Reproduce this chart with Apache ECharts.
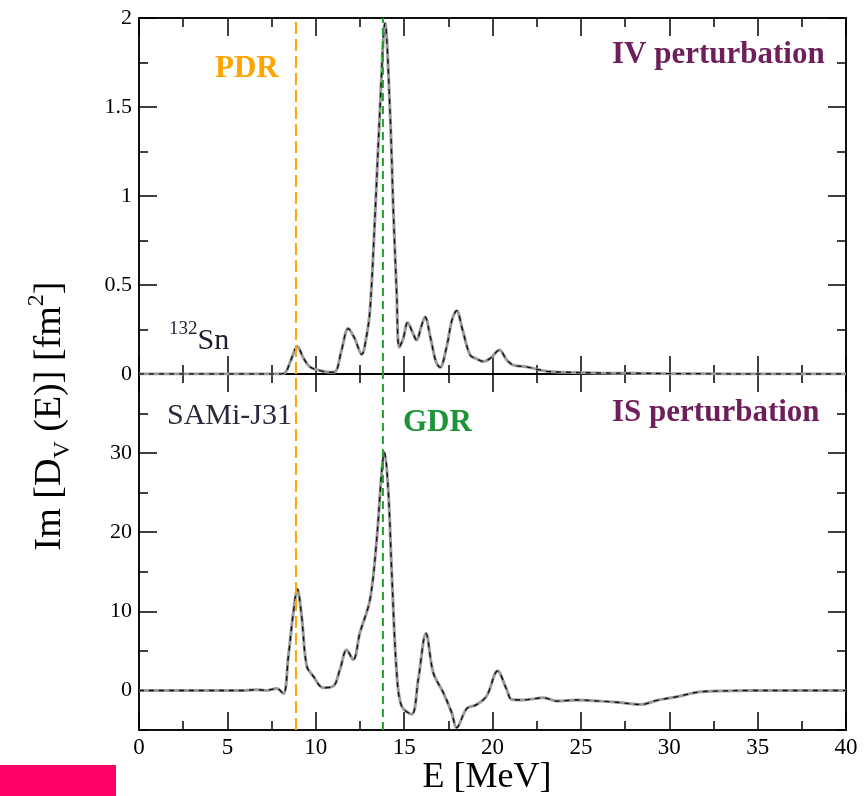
<!DOCTYPE html>
<html>
<head>
<meta charset="utf-8">
<script src="https://cdn.jsdelivr.net/npm/echarts@6/dist/echarts.min.js"></script>
<style>
html,body{margin:0;padding:0;background:#fff;}
#chart{width:864px;height:796px;}
</style>
</head>
<body>
<div id="chart"></div>
<script>
// ---- data ----
var ivEnergy = [0, 2, 4, 6, 7, 8, 8.3, 8.6, 8.96, 9.3, 9.67, 10.2, 10.8, 11.1, 11.45, 11.84, 12.2, 12.6, 12.85, 13.07, 13.35, 13.63, 13.92, 14.2, 14.39, 14.58, 14.72, 14.95, 15.2, 15.45, 15.71, 15.95, 16.18, 16.5, 16.8, 17.03, 17.4, 17.7, 17.97, 18.3, 18.73, 19.1, 19.48, 19.9, 20.39, 20.8, 21.18, 21.93, 23.07, 24, 26, 28, 30, 32, 35, 40];
var ivValue  = [0, 0, 0, 0, 0, 0, 0.01, 0.08, 0.155, 0.09, 0.04, 0.02, 0.01, 0.012, 0.13, 0.255, 0.2, 0.11, 0.2, 0.36, 0.88, 1.48, 1.97, 1.48, 0.92, 0.45, 0.15, 0.2, 0.29, 0.24, 0.19, 0.26, 0.32, 0.2, 0.07, 0.037, 0.15, 0.3, 0.356, 0.25, 0.107, 0.085, 0.07, 0.09, 0.135, 0.08, 0.05, 0.04, 0.015, 0.01, 0.006, 0.004, 0.002, 0.001, 0, 0];

var isEnergy = [0, 2, 4, 6, 6.66, 7.2, 7.79, 8.17, 8.45, 8.73, 8.96, 9.2, 9.49, 9.86, 10.43, 11.0, 11.37, 11.75, 12.12, 12.5, 13.07, 13.45, 13.73, 13.88, 14.1, 14.3, 14.58, 14.86, 15.43, 15.8, 16.24, 16.65, 17.22, 17.69, 17.97, 18.54, 19.1, 19.67, 20.29, 20.8, 21.09, 21.75, 22.9, 23.63, 24.77, 26.08, 27.03, 28.44, 29.29, 30.42, 31.74, 32.68, 34.57, 37, 40];
var isValue  = [0, 0, 0, 0, 0.1, 0, 0.25, -0.4, 4.3, 9.8, 12.8, 9.4, 3.1, 1.8, 0.34, 0.55, 2.66, 5.1, 3.9, 7.3, 11.5, 19.1, 27.6, 30.1, 25.4, 14.9, 2.24, -2.0, -3.0, 1.4, 7.2, 2.24, -0.3, -2.8, -4.7, -2.3, -1.8, -0.7, 2.45, 0.13, -1.14, -1.2, -0.93, -1.35, -1.2, -1.35, -1.5, -1.77, -1.26, -0.8, -0.17, -0.08, 0, 0, 0];

var pdrEnergy = 8.88;
var gdrEnergy = 13.8;

var xRange = [0, 40];
var ivRange = [0, 2];
var isRange = [-5, 40];
var isMajorTicks = [0, 10, 20, 30, 40];
var isTickLabels = [0, 10, 20, 30];

// ---- chart ----
function pairs(xs, ys){ return xs.map(function(x,i){ return [x, ys[i]]; }); }
var FONT = '"Liberation Serif", "Times New Roman", serif';
function ls(){ return {color:'#000', width:1.5}; }

// x axes: a major axis (long ticks) and a minor axis (short ticks) on each side
function xAx(grid, pos, major, labels){
  return {
    type:'value', gridIndex:grid, position:pos, min:xRange[0], max:xRange[1], interval: major ? 5 : 2.5,
    axisLine:{show:true, onZero:false, lineStyle:ls()},
    axisTick:{show:true, inside:true, length: major ? 18 : 9, lineStyle:ls()},
    minorTick:{show:false},
    splitLine:{show:false},
    axisLabel:{show:labels, color:'#000', fontFamily:FONT, fontSize:23, margin:6}
  };
}
function ivY(pos, major, labels){
  return {
    type:'value', gridIndex:0, position:pos, min:ivRange[0], max:ivRange[1], interval: major ? 0.5 : 0.25,
    axisLine:{show:true, onZero:false, lineStyle:ls()},
    axisTick:{show:true, inside:true, length: major ? 18 : 9, lineStyle:ls()},
    minorTick:{show:false},
    splitLine:{show:false},
    axisLabel:{show:labels, color:'#000', fontFamily:FONT, fontSize:22, margin:7}
  };
}
function isY(pos, major, labels){
  var tick = {show:true, inside:true, length: major ? 18 : 9, lineStyle:ls()};
  if (major) tick.customValues = isMajorTicks;
  return {
    type:'value', gridIndex:1, position:pos, min:isRange[0], max:isRange[1], interval:5,
    axisLine:{show:true, onZero:false, lineStyle:ls()},
    axisTick:tick,
    minorTick:{show:false},
    splitLine:{show:false},
    axisLabel:{show:labels, color:'#000', fontFamily:FONT, fontSize:22, margin:7,
      formatter:function(v){ return isTickLabels.indexOf(v) >= 0 ? String(v) : ''; }}
  };
}
function vline(xi, yi, e, range, color, dash){
  return {type:'line', xAxisIndex:xi, yAxisIndex:yi, data:[[e, range[0]], [e, range[1]]], symbol:'none', silent:true,
    lineStyle:{color:color, width:2, type:dash}, z:5};
}

var option = {
  animation:false,
  grid:[
    {left:139, top:18, width:707, height:356},
    {left:139, top:374, width:707, height:356}
  ],
  xAxis:[
    xAx(0,'bottom',true,false), xAx(0,'bottom',false,false), xAx(0,'top',true,false), xAx(0,'top',false,false),
    xAx(1,'bottom',true,true),  xAx(1,'bottom',false,false), xAx(1,'top',true,false), xAx(1,'top',false,false)
  ],
  yAxis:[
    ivY('left',true,true), ivY('left',false,false), ivY('right',true,false), ivY('right',false,false),
    isY('left',true,true), isY('left',false,false), isY('right',true,false), isY('right',false,false)
  ],
  series:[
    {type:'line', xAxisIndex:0, yAxisIndex:0, data:pairs(ivEnergy, ivValue), smooth:0.35, symbol:'none',
      lineStyle:{color:'#9a9a9a', width:3}},
    {type:'line', xAxisIndex:0, yAxisIndex:0, data:pairs(ivEnergy, ivValue), smooth:0.35, symbol:'none',
      lineStyle:{color:'#111', width:1.4, type:[5,5]}},
    {type:'line', xAxisIndex:4, yAxisIndex:4, data:pairs(isEnergy, isValue), smooth:0.35, symbol:'none',
      lineStyle:{color:'#9a9a9a', width:3}},
    {type:'line', xAxisIndex:4, yAxisIndex:4, data:pairs(isEnergy, isValue), smooth:0.35, symbol:'none',
      lineStyle:{color:'#111', width:1.4, type:[5,5]}},
    vline(0, 0, pdrEnergy, ivRange, '#FFA500', [12,5]),
    vline(0, 0, gdrEnergy, ivRange, '#22A02E', [8,5]),
    vline(4, 4, pdrEnergy, isRange, '#FFA500', [12,5]),
    vline(4, 4, gdrEnergy, isRange, '#22A02E', [8,5])
  ],
  graphic:[
    {type:'text', x:50, y:416, rotation:Math.PI/2,
      style:{text:'{m|Im [D}{sub|V}{m| (E)] [fm}{sup|2}{m|]}', align:'center', verticalAlign:'middle',
        rich:{
          m:{fontFamily:FONT, fontSize:38, lineHeight:50, fill:'#000', verticalAlign:'middle'},
          sub:{fontFamily:FONT, fontSize:24, lineHeight:24, fill:'#000', verticalAlign:'bottom'},
          sup:{fontFamily:FONT, fontSize:24, lineHeight:24, fill:'#000', verticalAlign:'top'}
        }}},
    {type:'text', x:487, y:778, style:{text:'E [MeV]', fontFamily:FONT, fontSize:36, fill:'#000', align:'center', verticalAlign:'middle'}},
    {type:'text', x:215, y:69, style:{text:'PDR', fontFamily:FONT, fontSize:31, fontWeight:'bold', fill:'#FFA500', verticalAlign:'middle'}},
    {type:'text', x:612, y:55, style:{text:'IV perturbation', fontFamily:FONT, fontSize:31, fontWeight:'bold', fill:'#6E1E5A', verticalAlign:'middle'}},
    {type:'text', x:169, y:338, style:{text:'{sup|132}{m|Sn}', verticalAlign:'middle',
        rich:{ m:{fontFamily:FONT, fontSize:30, lineHeight:36, fill:'#1e1e30', verticalAlign:'bottom'},
               sup:{fontFamily:FONT, fontSize:19, lineHeight:20, fill:'#1e1e30', verticalAlign:'top'} }}},
    {type:'text', x:167, y:416, style:{text:'SAMi-J31', fontFamily:FONT, fontSize:30, fill:'#2a2a3c', verticalAlign:'middle'}},
    {type:'text', x:403, y:423, style:{text:'GDR', fontFamily:FONT, fontSize:31, fontWeight:'bold', fill:'#1E9438', verticalAlign:'middle'}},
    {type:'text', x:612, y:413, style:{text:'IS perturbation', fontFamily:FONT, fontSize:31, fontWeight:'bold', fill:'#6E1E5A', verticalAlign:'middle'}},
    {type:'rect', shape:{x:0, y:765, width:116, height:31}, style:{fill:'#FF0066'}}
  ]
};
var chart = echarts.init(document.getElementById('chart'), null, {renderer:'canvas'});
chart.setOption(option);
</script>
</body>
</html>
